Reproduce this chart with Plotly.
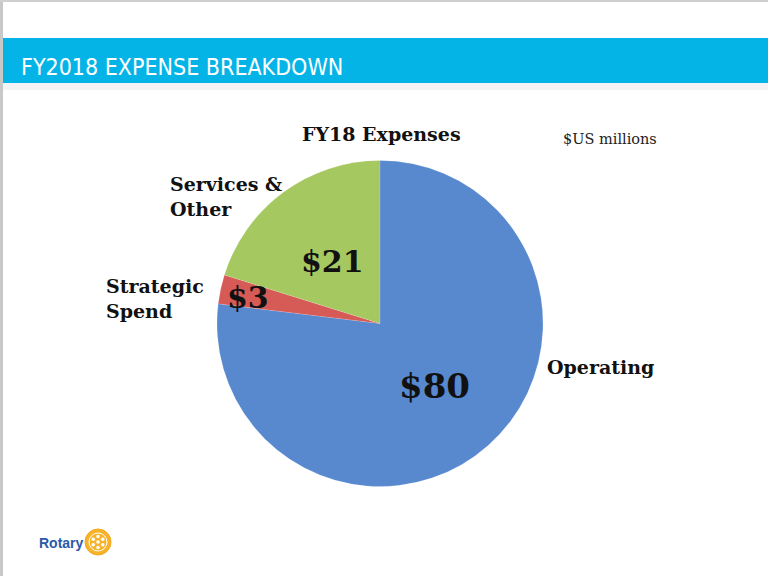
import math
import plotly.graph_objects as go

W, H = 768, 576

# ---- data ----
categories = ["Operating", "Strategic Spend", "Services & Other"]
values = [80, 3, 21]
value_labels = ["$80", "$3", "$21"]
category_labels = ["Operating", "Strategic<br>Spend", "Services &<br>Other"]
slice_colors = ["#5889cf", "#d65b57", "#a6c860"]

chart_title = "FY18 Expenses"
units_note = "$US millions"
slide_title = "FY2018 EXPENSE BREAKDOWN"


def px(x):
    return x / W


def py(y):
    return 1 - y / H


fig = go.Figure()

# pie domain (pixel box of the pie)
pie_left, pie_right, pie_top, pie_bottom = 217, 543, 160, 487
fig.add_trace(go.Pie(
    labels=categories,
    values=values,
    sort=False,
    direction="clockwise",
    rotation=0,
    textinfo="none",
    hoverinfo="label+value",
    marker=dict(colors=slice_colors, line=dict(color="rgba(255,255,255,0.25)", width=0.5)),
    domain=dict(x=[px(pie_left), px(pie_right)], y=[py(pie_bottom), py(pie_top)]),
    showlegend=False,
))

serif = "DejaVu Serif, Georgia, serif"
annotations = []

# value labels inside slices (Operating, Strategic, Services)
val_pos = [(434, 386, 34), (248, 297, 30), (332, 261, 30)]
for txt, (x, y, s) in zip(value_labels, val_pos):
    annotations.append(dict(x=px(x), y=py(y), xref="paper", yref="paper",
                            text="<b>%s</b>" % txt, showarrow=False,
                            xanchor="center", yanchor="middle",
                            font=dict(family=serif, size=s, color="#111111")))

# category labels outside
cat_pos = [(545, 367), (104, 298), (168, 197)]
for txt, (x, y) in zip(category_labels, cat_pos):
    annotations.append(dict(x=px(x), y=py(y), xref="paper", yref="paper",
                            text="<b>%s</b>" % txt, showarrow=False,
                            xanchor="left", yanchor="middle", align="left",
                            font=dict(family=serif, size=19, color="#111111")))

# chart title & units
annotations.append(dict(x=px(381), y=py(134), xref="paper", yref="paper",
                        text="<b>%s</b>" % chart_title, showarrow=False,
                        xanchor="center", yanchor="middle",
                        font=dict(family=serif, size=19, color="#111111")))
annotations.append(dict(x=px(610), y=py(139), xref="paper", yref="paper",
                        text=units_note, showarrow=False,
                        xanchor="center", yanchor="middle",
                        font=dict(family=serif, size=14.5, color="#222222")))

# slide header title
annotations.append(dict(x=px(19), y=py(67), xref="paper", yref="paper",
                        text=slide_title, showarrow=False,
                        xanchor="left", yanchor="middle",
                        font=dict(family="Liberation Sans Narrow, Arial Narrow, DejaVu Sans Condensed, sans-serif",
                                  size=23, color="#ffffff")))

# Rotary logo text
annotations.append(dict(x=px(37), y=py(543), xref="paper", yref="paper",
                        text="<b>Rotary</b>", showarrow=False,
                        xanchor="left", yanchor="middle",
                        font=dict(family="Liberation Sans, Arial, sans-serif", size=14, color="#2a5aa8")))

shapes = []
# slide frame lines
shapes.append(dict(type="rect", xref="paper", yref="paper", x0=0, x1=px(3), y0=0, y1=1,
                   fillcolor="#c8c8c8", line=dict(width=0), layer="above"))
shapes.append(dict(type="rect", xref="paper", yref="paper", x0=0, x1=1, y0=py(2), y1=1,
                   fillcolor="#cfcfcf", line=dict(width=0)))
# header shadow
for i, c in enumerate(["#d0d0d0", "#dedede", "#eaeaea", "#f4f4f4"]):
    shapes.append(dict(type="rect", xref="paper", yref="paper", x0=0, x1=1,
                       y0=py(84 + i * 1.5 + 1.5), y1=py(83),
                       fillcolor=c, line=dict(width=0), layer="below"))
# header bar
shapes.append(dict(type="rect", xref="paper", yref="paper", x0=0, x1=1, y0=py(83), y1=py(38),
                   fillcolor="#04b4e6", line=dict(width=0), layer="below"))

# Rotary wheel
cx, cy, r = 98, 542, 13
shapes.append(dict(type="circle", xref="paper", yref="paper",
                   x0=px(cx - r), x1=px(cx + r), y0=py(cy + r), y1=py(cy - r),
                   fillcolor="#f7b32b", line=dict(color="#f5a81c", width=1)))
shapes.append(dict(type="circle", xref="paper", yref="paper",
                   x0=px(cx - 9), x1=px(cx + 9), y0=py(cy + 9), y1=py(cy - 9),
                   fillcolor="rgba(0,0,0,0)", line=dict(color="#ffffff", width=1)))
for k in range(6):
    a = math.radians(k * 60 + 30)
    sx, sy = cx + 5.5 * math.cos(a), cy + 5.5 * math.sin(a)
    shapes.append(dict(type="circle", xref="paper", yref="paper",
                       x0=px(sx - 1.8), x1=px(sx + 1.8), y0=py(sy + 1.8), y1=py(sy - 1.8),
                       fillcolor="#ffffff", line=dict(width=0)))
shapes.append(dict(type="circle", xref="paper", yref="paper",
                   x0=px(cx - 1.8), x1=px(cx + 1.8), y0=py(cy + 1.8), y1=py(cy - 1.8),
                   fillcolor="#ffffff", line=dict(width=0)))

fig.update_layout(
    width=W, height=H,
    margin=dict(l=0, r=0, t=0, b=0),
    paper_bgcolor="#ffffff",
    plot_bgcolor="#ffffff",
    annotations=annotations,
    shapes=shapes,
)

fig.write_html(
    "out.html",
    config=dict(displayModeBar=False),
    post_script="document.body.style.margin='0';document.body.style.padding='0';"
                "document.body.style.overflow='hidden';",
)
